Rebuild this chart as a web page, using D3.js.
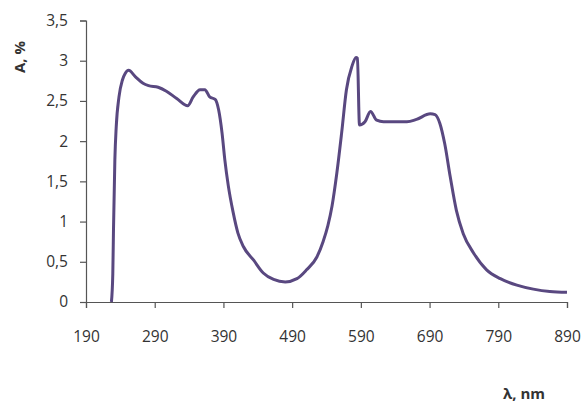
<!DOCTYPE html>
<html>
<head>
<meta charset="utf-8">
<script src="https://cdn.jsdelivr.net/npm/d3@7"></script>
<style>
  body { margin: 0; background: #fff; }
  svg text { font-family: "Open Sans", "Noto Sans", sans-serif; fill: #333; }
</style>
</head>
<body>
<div id="chart"></div>
<script>
// wavelength (nm) and absorbance (%)
var wavelength = [227, 229, 230, 232, 234, 238, 243, 247, 252, 262, 273, 281, 295, 307, 322, 338, 346, 356, 363, 370,
  378, 383, 388, 392, 397, 404, 411, 419, 434, 448, 463, 480, 497, 511, 526, 535, 542, 548, 555, 562, 569, 577,
  583, 585, 588, 596, 604, 613, 623, 657, 671, 691, 698, 705, 712, 720, 729, 739, 754, 773, 793, 817,
  841, 865, 890];
var absorbance = [0, 0.35, 0.9, 1.77, 2.18, 2.55, 2.76, 2.84, 2.88, 2.8, 2.72, 2.69, 2.67, 2.62, 2.53, 2.44, 2.55, 2.64, 2.64, 2.55,
  2.52, 2.39, 2.10, 1.77, 1.45, 1.12, 0.86, 0.69, 0.52, 0.36, 0.28, 0.25, 0.29, 0.40, 0.56, 0.75, 0.95, 1.19, 1.60, 2.10, 2.64, 2.93,
  3.04, 3.03, 2.20, 2.24, 2.37, 2.26, 2.24, 2.24, 2.27, 2.34, 2.33, 2.22, 1.97, 1.56, 1.14, 0.85, 0.61, 0.40, 0.29, 0.21,
  0.16, 0.13, 0.12];
var xTicks = [190, 290, 390, 490, 590, 690, 790, 890];
var yTicks = [0, 0.5, 1, 1.5, 2, 2.5, 3, 3.5];

var width = 585, height = 405;
var margin = {top: 20.5, right: 18, bottom: 103, left: 86};

var svg = d3.select("#chart").append("svg")
  .attr("width", width)
  .attr("height", height);

var x = d3.scaleLinear().domain([190, 890]).range([margin.left, width - margin.right]);
var y = d3.scaleLinear().domain([0, 3.5]).range([height - margin.bottom, margin.top]);

var fmt = function(d){ return String(d).replace(".", ","); };

// x axis
var xAxis = svg.append("g")
  .attr("transform", "translate(0," + y(0) + ")")
  .call(d3.axisBottom(x).tickValues(xTicks).tickSize(6).tickPadding(23).tickFormat(d3.format("d")));
xAxis.select(".domain").attr("stroke", "#555").attr("stroke-width", 1.2);
xAxis.selectAll(".tick line").attr("stroke", "#555").attr("stroke-width", 1.2);
xAxis.selectAll("text").style("font-size", "15.5px").attr("fill", "#333");

// y axis
var yAxis = svg.append("g")
  .attr("transform", "translate(" + x(190) + ",0)")
  .call(d3.axisLeft(y).tickValues(yTicks).tickSize(6).tickPadding(12).tickFormat(fmt));
yAxis.select(".domain").attr("stroke", "#555").attr("stroke-width", 1.2);
yAxis.selectAll(".tick line").attr("stroke", "#555").attr("stroke-width", 1.2);
yAxis.selectAll("text").style("font-size", "15.5px").attr("fill", "#333");

// spectrum line
var pts = wavelength.map(function(w, i){ return [w, absorbance[i]]; });
var line = d3.line()
  .x(function(d){ return x(d[0]); })
  .y(function(d){ return y(d[1]); })
  .curve(d3.curveMonotoneX);

svg.append("path")
  .datum(pts)
  .attr("d", line)
  .attr("fill", "none")
  .attr("stroke", "#594880")
  .attr("stroke-width", 3)
  .attr("stroke-linejoin", "round");

// axis titles
svg.append("text")
  .attr("transform", "translate(25,57) rotate(-90)")
  .attr("text-anchor", "middle")
  .style("font-size", "15px")
  .style("font-weight", "bold")
  .text("A, %");

svg.append("text")
  .attr("x", 524)
  .attr("y", 399)
  .attr("text-anchor", "middle")
  .style("font-size", "15px")
  .style("font-weight", "bold")
  .text("λ, nm");
</script>
</body>
</html>
